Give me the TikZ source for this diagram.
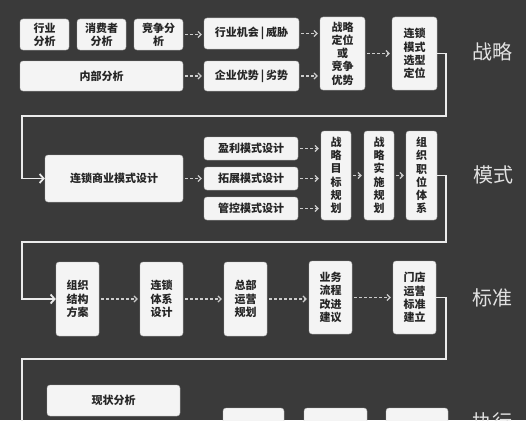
\documentclass[tikz,border=0pt]{standalone}
\usepackage{fontspec}
\setmainfont{Noto Sans CJK SC}
\usetikzlibrary{arrows.meta}
\definecolor{bgc}{RGB}{58,58,58}
\definecolor{boxc}{RGB}{244,244,244}
\definecolor{dashc}{RGB}{205,205,205}
\definecolor{labc}{RGB}{225,225,225}
\tikzset{
  box/.style={draw=gray!60, line width=0.4pt, fill=boxc, rounded corners=3pt, inner sep=0pt,
    align=center, font=\fontsize{11}{13.3}\selectfont\bfseries, text=black!85},
  dasharrow/.style={draw=dashc, line width=1.2pt, dash pattern=on 3pt off 2pt,
    -{Straight Barb[length=3pt,width=6pt]}, shorten <=2pt, shorten >=2pt},
  conn/.style={draw=white!92!black, line width=1.8pt, -{Straight Barb[length=4pt,width=9pt]}, rounded corners=0pt},
  lab/.style={text=labc, font=\fontsize{20}{22}\selectfont, inner sep=0pt}
}
\newcommand{\bx}[6]{\node[box, minimum width={(#4-#2)*1pt}, minimum height={(#5-#3)*1pt}] (#1) at ({(#2+#4)/2},{(#3+#5)/2}) {#6};}
\begin{document}
\begin{tikzpicture}[x=1pt,y=-1pt]
\useasboundingbox (0,0) rectangle (526,420);
\clip (0,0) rectangle (526,420);
\fill[bgc] (0,0) rectangle (526,420);
% row 1
\bx{r1a}{20}{19}{69}{50}{行业\\分析}
\bx{r1b}{77}{19}{126}{50}{消费者\\分析}
\bx{r1c}{134}{19}{183}{50}{竞争分\\析}
\bx{r1d}{204}{18}{299}{49}{行业机会\,|\,威胁}
\bx{r1e}{20}{61}{183}{91}{内部分析}
\bx{r1f}{204}{61}{299}{91}{企业优势\,|\,劣势}
\bx{r1g}{320}{17}{365}{90}{战略\\定位\\或\\竞争\\优势}
\bx{r1h}{392}{17}{437}{90}{连锁\\模式\\选型\\定位}
% row 2
\bx{r2a}{45}{155}{183}{202}{连锁商业模式设计}
\bx{r2b}{204}{137}{298}{160}{盈利模式设计}
\bx{r2c}{204}{167}{298}{190}{拓展模式设计}
\bx{r2d}{204}{197}{298}{220}{管控模式设计}
\bx{r2e}{321}{131}{351}{220}{战\\略\\目\\标\\规\\划}
\bx{r2f}{364}{131}{394}{220}{战\\略\\实\\施\\规\\划}
\bx{r2g}{406}{131}{437}{220}{组\\织\\职\\位\\体\\系}
% row 3
\bx{r3a}{56}{262}{99}{336}{组织\\结构\\方案}
\bx{r3b}{140}{262}{183}{336}{连锁\\体系\\设计}
\bx{r3c}{224}{262}{267}{336}{总部\\运营\\规划}
\bx{r3d}{309}{261}{352}{334}{业务\\流程\\改进\\建议}
\bx{r3e}{393}{261}{436}{334}{门店\\运营\\标准\\建立}
% row 4
\bx{r4a}{47}{385}{180}{416}{现状分析}
\bx{r4b}{223}{408}{284}{440}{}
\bx{r4c}{304}{408}{367}{440}{}
\bx{r4d}{386}{408}{448}{440}{}
% labels
\node[lab] (l1) at (492,52) {战略};
\node[lab] (l2) at (493,175) {模式};
\node[lab] (l3) at (492,298) {标准};
\node[lab] (l4) at (492,422) {执行};
% connectors
\coordinate (k1) at (446,116);
\coordinate (k2) at (22,116);
\coordinate (k3) at (446,242);
\coordinate (k4) at (22,242);
\coordinate (k5) at (446,359);
\coordinate (k6) at (22,359);
\coordinate (k7) at (45,426);
\draw[conn] (r1h.east) -| (k1) -- (k2) |- (r2a.west);
\draw[conn] (r2g.east) -| (k3) -- (k4) |- (r3a.west);
\draw[conn] (r3e.east) -| (k5) -- (k6) |- (k7);
% dashed arrows
\draw[dasharrow] (r1c.east) -- (r1c.east -| r1d.west);
\draw[dasharrow] (r1e.east) -- (r1e.east -| r1f.west);
\draw[dasharrow] (r1d.east) -- (r1d.east -| r1g.west);
\draw[dasharrow] (r1f.east) -- (r1f.east -| r1g.west);
\draw[dasharrow] (r1g.east) -- (r1g.east -| r1h.west);
\draw[dasharrow] (r2a.east) -- (r2a.east -| r2c.west);
\draw[dasharrow] (r2b.east) -- (r2b.east -| r2e.west);
\draw[dasharrow] (r2c.east) -- (r2c.east -| r2e.west);
\draw[dasharrow] (r2d.east) -- (r2d.east -| r2e.west);
\draw[dasharrow] (r2e.east) -- (r2e.east -| r2f.west);
\draw[dasharrow] (r2f.east) -- (r2f.east -| r2g.west);
\draw[dasharrow] (r3a.east) -- (r3a.east -| r3b.west);
\draw[dasharrow] (r3b.east) -- (r3b.east -| r3c.west);
\draw[dasharrow] (r3c.east) -- (r3c.east -| r3d.west);
\draw[dasharrow] (r3d.east) -- (r3d.east -| r3e.west);
\end{tikzpicture}
\end{document}
